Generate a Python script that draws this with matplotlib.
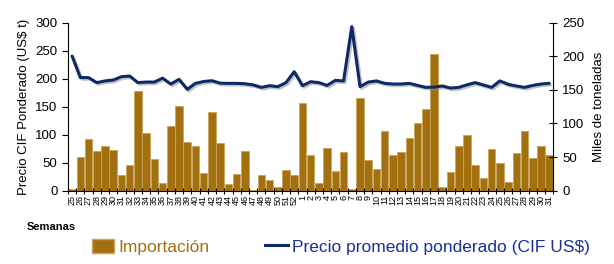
import numpy as np
import matplotlib
matplotlib.use('Agg')
import matplotlib.pyplot as plt
import matplotlib.patheffects as pe
from matplotlib.patches import Patch
from matplotlib.lines import Line2D

plt.rcParams['font.family'] = ['Liberation Sans', 'DejaVu Sans']

# Semanas 25..52 y 1..31
weeks = [str(w) for w in range(25, 53)] + [str(w) for w in range(1, 32)]

# Importación (miles de toneladas), eje derecho
imports = [2.5, 50.6, 76.9, 59, 66.5, 60.5, 23.8, 38.7, 148.8, 86.3,
           47.6, 11.9, 96.7, 126, 72.9, 66, 25.8, 116.6, 70.4, 9.4,
           25.3, 59, 1.5, 23.8, 15.9, 6, 30.8, 23.8, 130,
           53, 10.9, 63.5, 29.8, 58, 2, 137.4, 45, 32, 89,
           53, 58, 78.4, 101, 121, 203, 5.5, 28.3, 67, 82.3,
           38, 18.8, 61.5, 40.7, 12.9, 55.6, 88.3, 48, 66.5, 53]

# Precio CIF ponderado (US$/t), eje izquierdo
price = [240.5, 202, 202, 193, 196, 197.6, 203.6, 204.8, 193, 194,
         194, 201, 190.5, 198.8, 181, 191.7, 195, 196.4, 192, 191.7,
         191.7, 191, 189, 184.5, 187.5, 185.7, 193, 212.5, 187.5,
         194.6, 193, 188, 197, 196, 293, 185.7, 194, 196, 191.7,
         190.5, 190.5, 191.7, 188, 184.5, 185, 187, 183.3, 184.5, 189,
         193, 188.7, 184.5, 196, 190, 187, 184.5, 188, 190.5, 191.7]

bar_color = '#A3700F'
bar_edge = '#C9A45A'
line_color = '#0E2A66'

fig = plt.figure(figsize=(6.14, 2.64), dpi=100)
ax = fig.add_axes([0.1107, 0.2777, 0.7905, 0.6363])
ax2 = ax.twinx()

x = np.arange(len(weeks))

# bars on the right axis, drawn behind the line
ax2.bar(x, imports, width=0.92, color=bar_color, edgecolor=bar_edge, linewidth=0.6, zorder=1)
ax2.set_ylim(0, 250)
ax2.set_yticks(range(0, 251, 50))
ax2.set_ylabel('Miles de toneladas', fontsize=9.5, labelpad=6)

ax.set_zorder(ax2.get_zorder() + 1)
ax.patch.set_visible(False)
ax.plot(x, price, color=line_color, linewidth=2.2, solid_joinstyle='round', solid_capstyle='round',
        path_effects=[pe.SimpleLineShadow(offset=(1.2, -1.2), shadow_color='#888888', alpha=0.5),
                      pe.Normal()])
ax.set_ylim(0, 300)
ax.set_yticks(range(0, 301, 50))
ax.set_ylabel('Precio CIF Ponderado (US$ t)', fontsize=9.5, labelpad=4)
ax.set_xlim(-0.5, len(weeks) - 0.5)

ax.set_xticks(x)
ax.set_xticklabels(weeks, rotation=90, fontsize=6.5)
ax.set_xticks(np.arange(-0.5, len(weeks), 1.0), minor=True)
ax.tick_params(axis='x', which='major', length=0, pad=3)
ax.tick_params(axis='x', which='minor', length=4, direction='inout', width=0.8)
ax.tick_params(axis='y', labelsize=9.5, length=4, direction='out', width=0.8)
ax2.tick_params(axis='y', labelsize=9.5, length=6, direction='inout', width=0.8)

for a in (ax, ax2):
    a.spines['top'].set_visible(False)
    for s in ('left', 'right', 'bottom'):
        a.spines[s].set_linewidth(0.8)
ax.spines['right'].set_visible(False)
ax2.spines['left'].set_visible(False)
ax2.spines['bottom'].set_visible(False)

fig.text(0.043, 0.13, 'Semanas', fontsize=8, fontweight='bold')

handles = [Patch(facecolor=bar_color, edgecolor=bar_edge),
           Line2D([0], [0], color=line_color, linewidth=2.2)]
leg = fig.legend(handles, ['Importación', 'Precio promedio ponderado (CIF US$)'],
                 loc='center', bbox_to_anchor=(0.555, 0.065), ncol=2, frameon=False,
                 fontsize=12.5, handlelength=1.3, handleheight=0.9, handletextpad=0.25,
                 columnspacing=3.2)
for txt, c in zip(leg.get_texts(), [bar_color, '#1A2F9A']):
    txt.set_color(c)

fig.savefig('out.png', dpi=100)
